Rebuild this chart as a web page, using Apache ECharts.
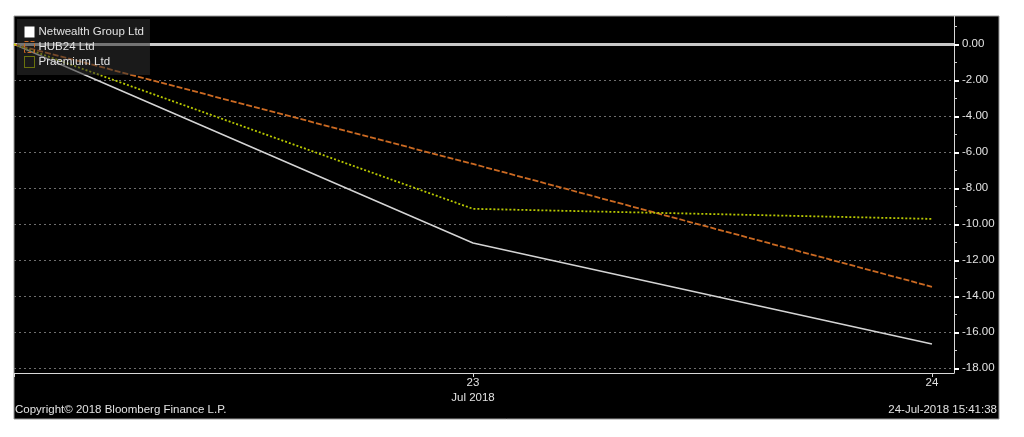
<!DOCTYPE html>
<html><head><meta charset="utf-8">
<script src="https://cdn.jsdelivr.net/npm/echarts@6/dist/echarts.min.js"></script>
<style>html,body{margin:0;padding:0;background:#fff;}#c{width:1024px;height:437px;}</style>
</head><body><div id="c"></div>
<script>
const days = [22, 23, 24];
const xTickValues = [22, 23, 24];
const xTickLabels = {22: '', 23: '23\nJul 2018', 24: '24'};
const yTickValues = [0, -2, -4, -6, -8, -10, -12, -14, -16, -18];
const seriesNames = ['Netwealth Group Ltd', 'HUB24 Ltd', 'Praemium Ltd'];
const netwealth = [0, -11.04, -16.65];
const hub24 = [0, -6.65, -13.47];
const praemium = [0, -9.14, -9.70];
const copyrightText = 'Copyright\u00a9 2018 Bloomberg Finance L.P.';
const timestampText = '24-Jul-2018 15:41:38';

const FONT = 'Liberation Sans';
const FS = 11.5;
const TXT = '#e2e2e2';
const pair = arr => days.map((d, i) => [d, arr[i]]);

const chart = echarts.init(document.getElementById('c'));
chart.setOption({
  backgroundColor: '#ffffff',
  animation: false,
  graphic: [
    {type: 'rect', z: -10, shape: {x: 14, y: 16, width: 985, height: 403},
     style: {fill: '#000000', stroke: '#9a9a9a', lineWidth: 1}},
    {type: 'text', z: 10, left: 15, top: 404,
     style: {text: copyrightText, fill: TXT, font: FS + 'px "' + FONT + '"'}},
    {type: 'text', z: 10, right: 27, top: 404,
     style: {text: timestampText, fill: TXT, font: FS + 'px "' + FONT + '"', textAlign: 'right'}}
  ],
  grid: {left: 14, top: 16, right: 70, bottom: 64, containLabel: false},
  legend: {
    left: 17, top: 19, orient: 'vertical', z: 6,
    backgroundColor: 'rgba(48,48,48,0.55)',
    padding: [7, 6, 7, 7],
    itemWidth: 10, itemHeight: 11, itemGap: 3,
    textStyle: {color: TXT, fontFamily: FONT, fontSize: FS, lineHeight: 11, padding: [0, 0, 0, -1]},
    data: [
      {name: seriesNames[0], icon: 'rect', itemStyle: {color: '#ffffff', borderWidth: 0}},
      {name: seriesNames[1], icon: 'rect', itemStyle: {color: 'transparent', borderColor: '#cc6a22', borderWidth: 1, borderType: 'dashed'}},
      {name: seriesNames[2], icon: 'rect', itemStyle: {color: 'transparent', borderColor: '#b8c800', borderWidth: 1, borderType: 'dotted'}}
    ]
  },
  xAxis: {
    type: 'value', min: 22, max: 24.048, interval: 1,
    axisLine: {show: true, onZero: false, lineStyle: {color: '#d8d8d8', width: 1}},
    axisTick: {show: true, length: 4, customValues: xTickValues, lineStyle: {color: '#d8d8d8'}},
    axisLabel: {customValues: xTickValues, formatter: v => xTickLabels[v] || '', color: TXT,
      fontFamily: FONT, fontSize: FS, lineHeight: 15, margin: 2},
    splitLine: {show: false}
  },
  yAxis: {
    type: 'value', position: 'right', min: -18.26, max: 1.57, splitNumber: 10,
    axisLine: {show: true, onZero: false, lineStyle: {color: '#d8d8d8', width: 1}},
    axisTick: {show: true, length: 5, customValues: yTickValues, lineStyle: {color: '#ffffff', width: 2}},
    minorTick: {show: true, splitNumber: 2, length: 3, lineStyle: {color: '#cfcfcf'}},
    axisLabel: {customValues: yTickValues, formatter: v => v.toFixed(2), color: TXT,
      fontFamily: FONT, fontSize: FS, margin: 8},
    splitLine: {show: true, lineStyle: {color: '#6e6e6e', type: [2, 3], width: 1}}
  },
  series: [
    {name: seriesNames[0], type: 'line', data: pair(netwealth), symbol: 'none', z: 3,
     lineStyle: {color: '#d4d4d4', width: 1.5},
     itemStyle: {color: '#ffffff'},
     markLine: {silent: true, z: 2, symbol: ['none', 'none'], label: {show: false},
       lineStyle: {color: '#c8c8c8', width: 3, type: 'solid'}, data: [{yAxis: 0}]}},
    {name: seriesNames[1], type: 'line', data: pair(hub24), symbol: 'none',
     lineStyle: {color: '#cc6a22', width: 1.8, type: [6, 2]},
     itemStyle: {color: '#cc6a22'}},
    {name: seriesNames[2], type: 'line', data: pair(praemium), symbol: 'none',
     lineStyle: {color: '#b8c800', width: 1.8, type: [2, 2]},
     itemStyle: {color: '#b8c800'}}
  ]
});
</script></body></html>
